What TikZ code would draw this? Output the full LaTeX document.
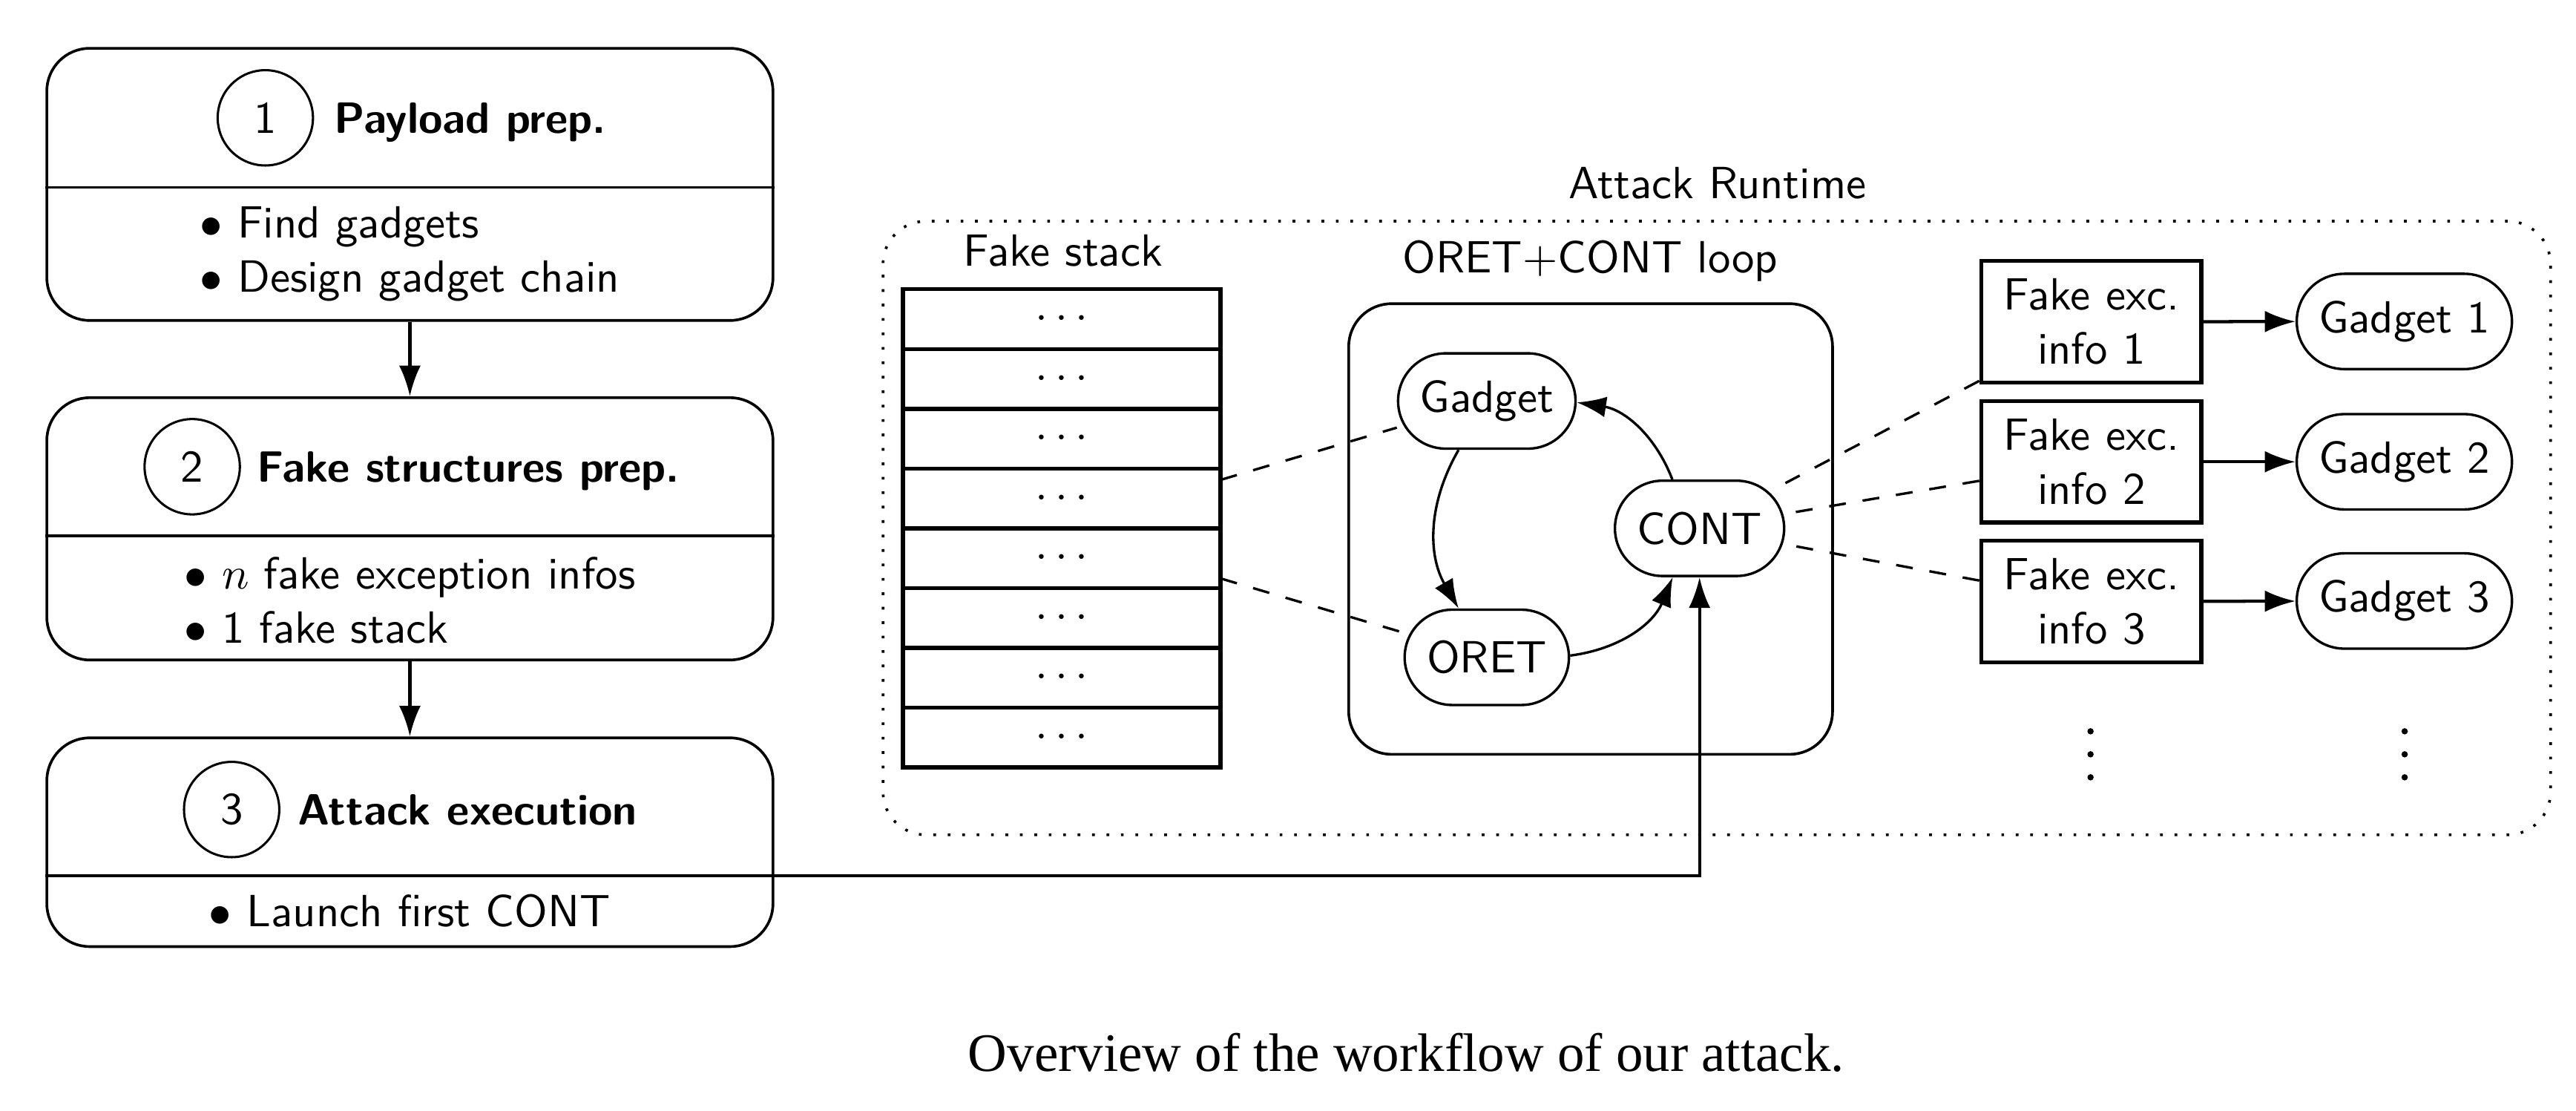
\documentclass[tikz,border=0pt]{standalone}
\usepackage{fontspec}
\newfontfamily\capfont{Liberation Serif}
\usetikzlibrary{arrows.meta}
\newlength\U
\setlength\U{0.0128cm}
\begin{document}
\begin{tikzpicture}[x=\U, y=-\U, font=\sffamily,
  stepbox/.style={draw, line width=0.6pt, rounded corners=9.5pt, minimum width=442*\U, inner sep=0pt},
  divline/.style={line width=0.6pt},
  numc/.style={draw, circle, line width=0.5pt, minimum size=58*\U, inner sep=0pt},
  head/.style={font=\sffamily\bfseries\fontsize{9.7}{11.6}\selectfont, inner sep=0pt, anchor=base west},
  items/.style={align=left, inner sep=0pt},
  arr/.style={line width=0.7pt, -{Latex[length=6.8pt,width=4.8pt]}},
  loopar/.style={line width=0.55pt, -{Latex[length=6.5pt,width=4.6pt]}},
  cell/.style={draw, line width=0.9pt, minimum width=193.4*\U, minimum height=36.375*\U, inner sep=0pt},
  info/.style={draw, line width=0.9pt, minimum width=134*\U, minimum height=74*\U, inner sep=0pt, align=center},
  pill/.style={draw, line width=0.55pt, rounded corners=29*\U, minimum height=58*\U, inner xsep=2pt},
  dashln/.style={line width=0.55pt, dash pattern=on 3.75pt off 3.75pt},
  dotbox/.style={draw, line width=0.6pt, dash pattern=on 0.6pt off 2.6pt, rounded corners=9.5pt, inner sep=0pt},
  loopbox/.style={draw, line width=0.6pt, rounded corners=9.5pt, inner sep=0pt},
  vdot/.style={circle, fill, inner sep=0pt, minimum size=1.4pt},
  lbl/.style={anchor=base, inner sep=0pt}]
\useasboundingbox (0,0) rectangle (1568,676);

% ---------- left column ----------
\node[stepbox, minimum height=165.6*\U] (b1) at (249.5,112.2) {};
\node[stepbox, minimum height=159.6*\U] (b2) at (249.5,321.8) {};
\node[stepbox, minimum height=127*\U] (b3) at (249.5,512.5) {};
\coordinate (d1) at (249.5,114);
\coordinate (d2) at (249.5,326);
\coordinate (d3) at (249.5,533);
\draw[divline] (b1.west |- d1) -- (b1.east |- d1);
\draw[divline] (b2.west |- d2) -- (b2.east |- d2);
\draw[divline] (b3.west |- d3) -- (b3.east |- d3);

\node[numc] (n1) at (161.5,71.7) {1};
\node[head] (h1) at (203,81.2) {Payload prep.};
\node[numc] (n2) at (117,284) {2};
\node[head] (h2) at (156,293.5) {Fake structures prep.};
\node[numc] (n3) at (141,492.6) {3};
\node[head] (h3) at (180.6,502.1) {Attack execution};

\node[items] (i1) at (249.5,154.5) {$\bullet$ Find gadgets\\$\bullet$ Design gadget chain};
\node[items] (i2) at (249.5,365.5) {$\bullet$ $n$ fake exception infos\\$\bullet$ 1 fake stack};
\node[items] (i3) at (249.5,554.5) {$\bullet$ Launch first CONT};

\draw[arr] (b1.south) -- (b2.north);
\draw[arr] (b2.south) -- (b3.north);

% ---------- attack runtime ----------
\node[dotbox, minimum width=1015*\U, minimum height=373.4*\U] (rt) at (1045,321.3) {};
\node[lbl] (rtl) at (1045.5,121) {Attack Runtime};

\node[lbl] (fsl) at (647,162) {Fake stack};
\foreach \k in {1,...,8}
  \node[cell] (c\k) at (646.3,{176+36.375*(\k-0.5)}) {$\cdots$};

\node[loopbox, minimum width=294.5*\U, minimum height=274.2*\U] (lb) at (968.2,321.9) {};
\node[lbl] (lbl) at (968,166) {ORET+CONT loop};

\node[pill, minimum width=108*\U] (gad) at (905,244) {Gadget};
\node[pill, minimum width=103*\U] (cont) at (1034.5,321.5) {CONT};
\node[pill, minimum width=100*\U] (oret) at (905,400) {ORET};

\draw[loopar] (gad) to[bend right=30] (oret);
\draw[loopar] (oret) to[bend right=30] (cont);
\draw[loopar] (cont) to[bend right=30] (gad);

\coordinate (s1) at (743,292);
\coordinate (s2) at (743,352);
\draw[dashln] (s1) -- (gad);
\draw[dashln] (s2) -- (oret);

\node[info] (f1) at (1273,195.8) {Fake exc.\\info 1};
\node[info] (f2) at (1273,281) {Fake exc.\\info 2};
\node[info] (f3) at (1273,366) {Fake exc.\\info 3};
\node[pill, minimum width=131*\U] (g1) at (1463.5,195.6) {Gadget 1};
\node[pill, minimum width=131*\U] (g2) at (1463.5,281) {Gadget 2};
\node[pill, minimum width=131*\U] (g3) at (1463.5,365.7) {Gadget 3};

\draw[dashln] (f1) -- (cont);
\draw[dashln] (f2) -- (cont);
\draw[dashln] (f3) -- (cont);

\draw[arr] (f1) -- (g1);
\draw[arr] (f2) -- (g2);
\draw[arr] (f3) -- (g3);

% vertical ellipses (continuation marks)
\foreach \yy [count=\j] in {445,459,473} {
  \node[vdot] (va\j) at (1272.5,\yy) {};
  \node[vdot] (vb\j) at (1463.7,\yy) {};
}

\draw[arr] (b3.east |- d3) -| (cont.south);

% ---------- caption ----------
\node[anchor=base, inner sep=0pt, font=\capfont\fontsize{12}{14}\selectfont] (cap) at (856,652) {Overview of the workflow of our attack.};
\end{tikzpicture}
\end{document}
